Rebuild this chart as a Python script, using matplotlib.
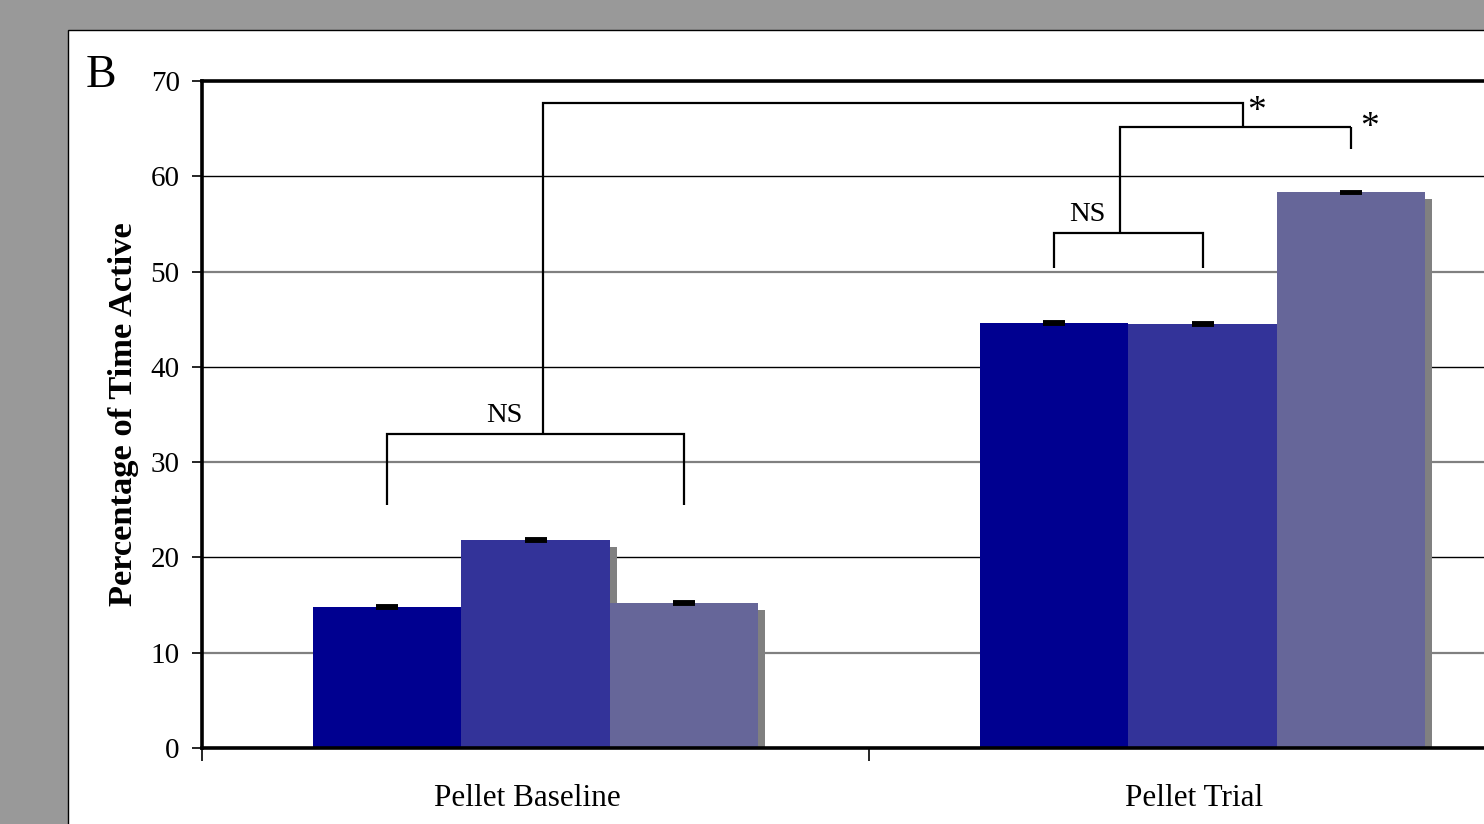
import matplotlib
matplotlib.use("Agg")
import matplotlib.pyplot as plt
from matplotlib.patches import Rectangle

plt.rcParams['font.family'] = ['Liberation Serif', 'DejaVu Serif']

# Data
categories = ["Pellet Baseline", "Pellet Trial"]
series_values = [
    [14.8, 44.6],   # series 1
    [21.8, 44.5],   # series 2
    [15.2, 58.3],   # series 3
]
series_errors = [
    [0.1, 0.1],
    [0.1, 0.1],
    [0.1, 0.1],
]
series_colors = ["#000090", "#333399", "#666699"]
y_ticks = [0, 10, 20, 30, 40, 50, 60, 70]

W, H = 1484, 824
DPI = 100
fig = plt.figure(figsize=(W / DPI, H / DPI), dpi=DPI, facecolor="#999999")

# white panel with thin black frame
panel = Rectangle((68 / W, -0.1), 1.2, 1.1 - 30 / H, transform=fig.transFigure,
                  facecolor="white", edgecolor="black", linewidth=1.0, zorder=-5)
fig.patches.append(panel)

# axes: extends past the right edge of the canvas
left_px, top_px, bottom_px = 202, 81, 748
cat_px = 667
ax = fig.add_axes([left_px / W, 1 - bottom_px / H, 2 * cat_px / W, (bottom_px - top_px) / H])
ax.set_zorder(1)
ax.set_facecolor("none")
ax.set_xlim(-0.5, 1.5)
ax.set_ylim(0, 70)

# horizontal gridlines (alternating tone)
for v in y_ticks[1:-1]:
    if (v // 10) % 2 == 1:
        ax.axhline(v, color="#808080", lw=1.6, zorder=0.5)
    else:
        ax.axhline(v, color="black", lw=1.0, zorder=0.5)

bar_w = 0.2225
offsets = [-bar_w, 0.0, bar_w]
sh_dx = 7 / cat_px
sh_dy = 7 / ((bottom_px - top_px) / 70)

x = list(range(len(categories)))
# drop shadows
for s, vals in enumerate(series_values):
    for i, v in enumerate(vals):
        ax.bar(x[i] + offsets[s] + sh_dx, v - sh_dy, width=bar_w, color="#808080",
               edgecolor="none", zorder=1)
# bars
for s, vals in enumerate(series_values):
    pos = [xi + offsets[s] for xi in x]
    ax.bar(pos, vals, width=bar_w, color=series_colors[s], edgecolor="none", zorder=2)
    ax.errorbar(pos, vals, yerr=series_errors[s], fmt="none", ecolor="black",
                elinewidth=1.0, capsize=7.8, capthick=2.8, zorder=3)

# significance brackets
def seg(xs, ys):
    ax.plot(xs, ys, color="black", lw=1.6, zorder=4, clip_on=False,
            solid_capstyle="butt", solid_joinstyle="miter")

b1, b2, b3 = offsets
# baseline: NS between series 1 and 3
seg([0 + b1, 0 + b1, 0 + b3, 0 + b3], [25.5, 33.0, 33.0, 25.5])
ax.text(-0.046, 33.6, "NS", ha="center", va="bottom", fontsize=20.5)
# trial: NS between series 1 and 2
seg([1 + b1, 1 + b1, 1 + b2, 1 + b2], [50.4, 54.1, 54.1, 50.4])
ax.text(0.828, 54.7, "NS", ha="center", va="bottom", fontsize=20.5)
# trial series 1&2 vs series 3
seg([0.876, 0.876, 1 + b3], [54.1, 65.2, 65.2])
seg([1 + b3, 1 + b3], [65.2, 62.9])
ax.text(1.251, 64.1, "*", ha="center", va="baseline", fontsize=27)
# baseline vs trial
seg([0.011, 0.011, 1.061, 1.061], [33.0, 67.7, 67.7, 65.2])
ax.text(1.081, 65.8, "*", ha="center", va="baseline", fontsize=27)

# axes styling
ax.set_yticks(y_ticks)
ax.set_yticklabels([str(v) for v in y_ticks], fontsize=21)
ax.set_xticks([-0.5, 0.5, 1.5])
ax.set_xticklabels([])
ax.tick_params(axis="y", direction="out", length=7, width=1.2, pad=9, color="black")
ax.tick_params(axis="x", direction="out", length=9, width=1.2)
for i, c in enumerate(categories):
    ax.text(x[i] - 0.012, -5.3, c, ha="center", va="center", fontsize=22.5)

for name in ["left", "top", "bottom"]:
    ax.spines[name].set_linewidth(2.6)
    ax.spines[name].set_color("black")
ax.spines["right"].set_visible(False)

ax.set_ylabel("Percentage of Time Active", fontsize=24.8, fontweight="bold")
ax.yaxis.set_label_coords((123 - left_px) / (2 * cat_px), 0.5 + (748 - 414.5 - 333.5) / 667)
ax.yaxis.label.set_va("center")

fig.text(101 / W, 1 - 76 / H, "B", ha="center", va="center", fontsize=33)

fig.savefig("out.png", dpi=DPI, facecolor=fig.get_facecolor())
